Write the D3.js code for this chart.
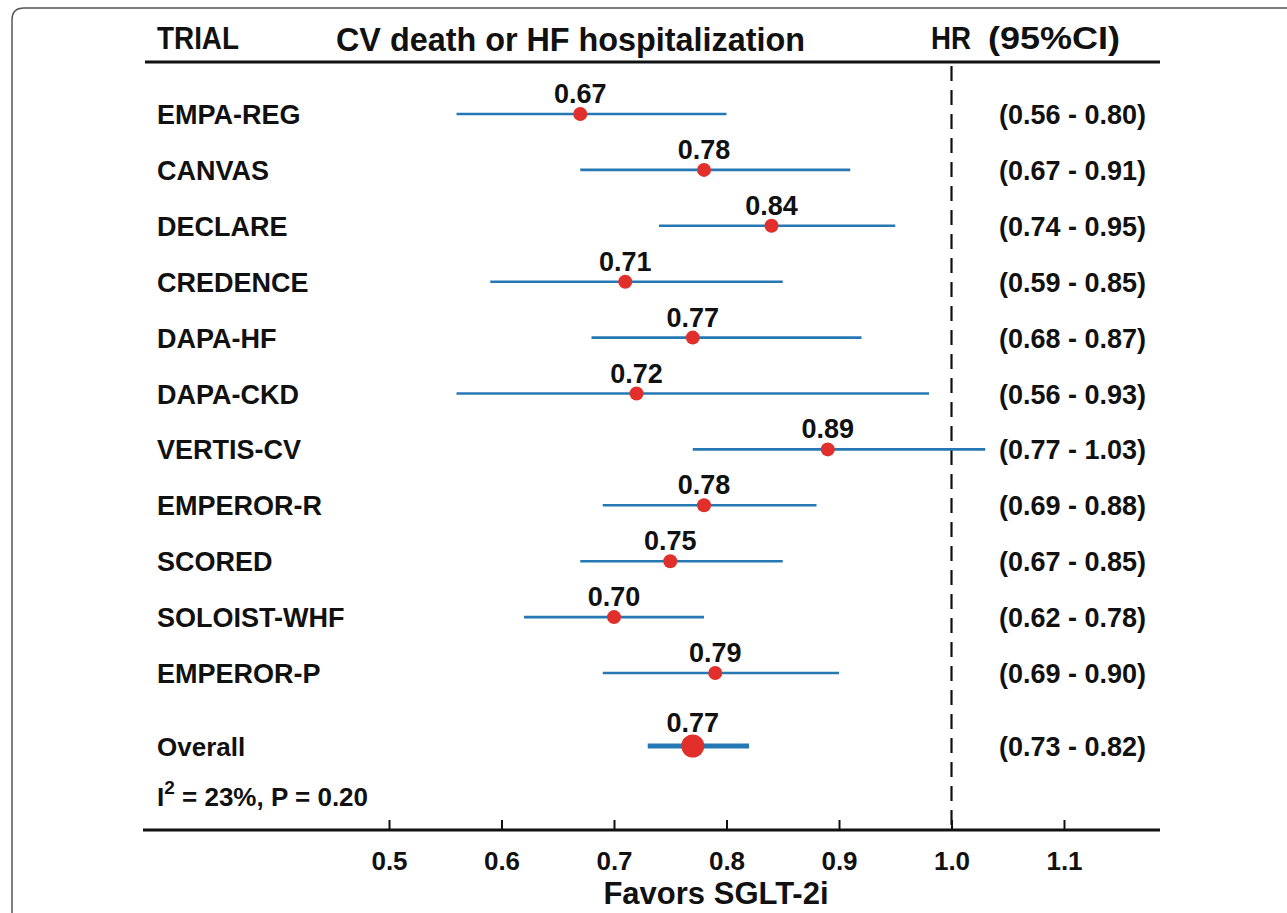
<!DOCTYPE html>
<meta charset="utf-8">
<style>
  body { margin: 0; background: #fff; }
  svg text { font-family: "Liberation Sans", Arial, sans-serif; font-weight: bold; fill: #111; }
  .ci line { stroke: #2678b4; }
  .dots circle { fill: #e1302c; }
</style>

<svg width="1287" height="913"></svg>
<script src="https://cdn.jsdelivr.net/npm/d3@7/dist/d3.min.js"></script>

<script>
const svg = d3.select("svg"),
  width = +svg.attr("width"),
  height = +svg.attr("height");

// values
const trials = ["EMPA-REG", "CANVAS", "DECLARE", "CREDENCE", "DAPA-HF", "DAPA-CKD",
  "VERTIS-CV", "EMPEROR-R", "SCORED", "SOLOIST-WHF", "EMPEROR-P"];
const hr = [0.67, 0.78, 0.84, 0.71, 0.77, 0.72, 0.89, 0.78, 0.75, 0.70, 0.79];
// whiskers as drawn (DAPA-HF and DAPA-CKD are drawn longer than their printed CI)
const lo = [0.56, 0.67, 0.74, 0.59, 0.68, 0.56, 0.77, 0.69, 0.67, 0.62, 0.69];
const hi = [0.80, 0.91, 0.95, 0.85, 0.92, 0.98, 1.03, 0.88, 0.85, 0.78, 0.90];
const ciLabels = ["(0.56 - 0.80)", "(0.67 - 0.91)", "(0.74 - 0.95)", "(0.59 - 0.85)",
  "(0.68 - 0.87)", "(0.56 - 0.93)", "(0.77 - 1.03)", "(0.69 - 0.88)", "(0.67 - 0.85)",
  "(0.62 - 0.78)", "(0.69 - 0.90)"];
const overall = { name: "Overall", hr: 0.77, lo: 0.73, hi: 0.82, label: "(0.73 - 0.82)" };
const tickValues = [0.5, 0.6, 0.7, 0.8, 0.9, 1.0, 1.1];

const rows = trials.map((t, i) => ({ name: t, hr: hr[i], lo: lo[i], hi: hi[i], label: ciLabels[i] }));

const x = d3.scaleLinear().domain([0.5, 1.1]).range([389, 1064]);
const y = d3.scalePoint().domain(trials).range([114, 673]);
const yOverall = 746;
const axisY = 830;
const fs = 27;

// frame
svg.append("path")
  .attr("d", "M12," + height + " L12,20 Q12,8 24,8 L" + width + ",8")
  .attr("fill", "none")
  .attr("stroke", "#555")
  .attr("stroke-width", 1.5);

// header
const header = svg.append("g");
header.append("text").attr("x", 157).attr("y", 49).attr("font-size", 31)
  .attr("textLength", 82).attr("lengthAdjust", "spacingAndGlyphs").text("TRIAL");
header.append("text").attr("x", 336).attr("y", 51).attr("font-size", 33)
  .attr("textLength", 469).attr("lengthAdjust", "spacingAndGlyphs").text("CV death or HF hospitalization");
header.append("text").attr("x", 931).attr("y", 49).attr("font-size", 31)
  .attr("textLength", 40).attr("lengthAdjust", "spacingAndGlyphs").text("HR");
header.append("text").attr("x", 988).attr("y", 49).attr("font-size", 31)
  .attr("textLength", 132).attr("lengthAdjust", "spacingAndGlyphs").text("(95%CI)");
header.append("line")
  .attr("x1", 145).attr("x2", 1160).attr("y1", 62).attr("y2", 62)
  .attr("stroke", "#111").attr("stroke-width", 3);

// reference line at HR = 1
svg.append("line")
  .attr("x1", x(1)).attr("x2", x(1))
  .attr("y1", 66).attr("y2", axisY)
  .attr("stroke", "#111").attr("stroke-width", 2.2)
  .attr("stroke-dasharray", "15,9");

// whiskers
svg.append("g").attr("class", "ci")
  .selectAll("line")
  .data(rows)
  .enter().append("line")
    .attr("x1", d => x(d.lo))
    .attr("x2", d => x(d.hi))
    .attr("y1", d => y(d.name))
    .attr("y2", d => y(d.name))
    .attr("stroke-width", 2.6);

svg.append("line")
  .attr("x1", x(overall.lo)).attr("x2", x(overall.hi))
  .attr("y1", yOverall).attr("y2", yOverall)
  .attr("stroke", "#2678b4").attr("stroke-width", 5);

// points
const dots = svg.append("g").attr("class", "dots");
dots.selectAll("circle")
  .data(rows)
  .enter().append("circle")
    .attr("cx", d => x(d.hr))
    .attr("cy", d => y(d.name))
    .attr("r", 7);
dots.append("circle")
  .attr("cx", x(overall.hr)).attr("cy", yOverall).attr("r", 11.5);

// HR values above points
svg.append("g")
  .selectAll("text")
  .data(rows)
  .enter().append("text")
    .attr("x", d => x(d.hr))
    .attr("y", d => y(d.name) - 11)
    .attr("text-anchor", "middle")
    .attr("font-size", fs)
    .text(d => d.hr.toFixed(2));
svg.append("text")
  .attr("x", x(overall.hr)).attr("y", yOverall - 14)
  .attr("text-anchor", "middle").attr("font-size", fs)
  .text(overall.hr.toFixed(2));

// trial names
svg.append("g")
  .selectAll("text")
  .data(rows)
  .enter().append("text")
    .attr("x", 157)
    .attr("y", d => y(d.name) + 10)
    .attr("font-size", fs)
    .text(d => d.name);
svg.append("text").attr("x", 157).attr("y", yOverall + 10).attr("font-size", fs - 1).text(overall.name);

// CI text
svg.append("g")
  .selectAll("text")
  .data(rows)
  .enter().append("text")
    .attr("x", 999)
    .attr("y", d => y(d.name) + 10)
    .attr("font-size", fs)
    .text(d => d.label);
svg.append("text").attr("x", 999).attr("y", yOverall + 10).attr("font-size", fs).text(overall.label);

// heterogeneity
const het = svg.append("text").attr("x", 157).attr("y", 806).attr("font-size", fs - 1);
het.append("tspan").text("I");
het.append("tspan").attr("font-size", 19).attr("dy", -12).text("2");
het.append("tspan").attr("dy", 12).text(" = 23%, P = 0.20");

// x axis
svg.append("line")
  .attr("x1", 143).attr("x2", 1160).attr("y1", axisY).attr("y2", axisY)
  .attr("stroke", "#111").attr("stroke-width", 3);

const axis = svg.append("g")
  .attr("transform", "translate(0," + axisY + ")")
  .call(d3.axisBottom(x).tickValues(tickValues).tickFormat(d3.format(".1f")).tickSize(-10).tickPadding(22));
axis.select(".domain").remove();
axis.selectAll(".tick line").attr("stroke", "#111").attr("stroke-width", 2);
axis.selectAll(".tick text")
  .attr("font-size", 26)
  .attr("font-family", "Liberation Sans, Arial, sans-serif")
  .attr("font-weight", "bold")
  .attr("fill", "#111");

svg.append("text")
  .attr("x", 716).attr("y", 904)
  .attr("text-anchor", "middle")
  .attr("font-size", 31)
  .text("Favors SGLT-2i");
</script>
